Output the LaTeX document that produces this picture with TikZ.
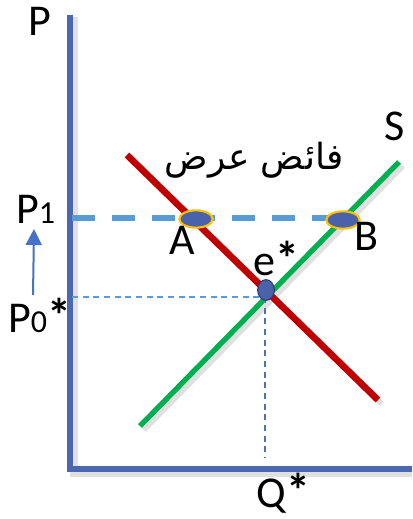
\documentclass[tikz,border=0pt]{standalone}
\usepackage{fontspec}
\setmainfont{Carlito}
\newfontfamily\arabicfont[Script=Arabic]{DejaVu Sans}
\TeXXeTstate=1
\usetikzlibrary{arrows.meta,shapes.geometric}
\definecolor{axisblue}{HTML}{4A67B0}
\definecolor{dred}{HTML}{C00000}
\definecolor{sgreen}{HTML}{00B050}
\definecolor{lblue}{HTML}{5B9BD5}
\definecolor{dotblue}{HTML}{4A62AA}
\definecolor{ring}{HTML}{FFC000}
\definecolor{arrblue}{HTML}{4472C4}
\newcommand{\bigast}{{\fontsize{36}{36}\selectfont\textbf{*}}}
\newcommand{\subnum}[1]{{\fontsize{24}{24}\selectfont #1}}
\tikzset{
  lbl/.style={font=\fontsize{33}{36}\selectfont, inner sep=0pt},
  shadowline/.style={line width=6pt, black, opacity=0.12},
  pointmark/.style={ellipse, fill=dotblue, draw=ring, line width=1.6pt, minimum width=25pt, minimum height=13pt, inner sep=0pt},
}
\begin{document}
\begin{tikzpicture}[x=0.75pt,y=-0.75pt]
\useasboundingbox (0,0) rectangle (412,519);
% shadows
\draw[shadowline] (74,17) -- (74,473) -- (412,473);
\draw[shadowline,line width=4pt] (131,159) -- (382,404);
\draw[shadowline,line width=4pt] (144,430) -- (403,166);
% axes
\draw[axisblue, line width=4pt] (70,15) coordinate (ytop) -- (70,469) coordinate (orig) -- (412,469) coordinate (xend);
% curves
\coordinate (d1) at (127,155);
\coordinate (d2) at (378,400);
\coordinate (s1) at (140,426);
\coordinate (s2) at (399,162);
\draw[dred, line width=5pt] (d1) -- (d2);
\draw[sgreen, line width=4pt] (s1) -- (s2);
% guide lines
\coordinate (p1l) at (72,218);
\coordinate (p1r) at (356,218);
\draw[lblue, line width=3.8pt, dash pattern=on 17pt off 13pt] (p1l) -- (p1r);
\coordinate (p0l) at (72,297);
\coordinate (ecorner) at (265,297);
\coordinate (qbot) at (265,458);
\draw[lblue, line width=1pt, dash pattern=on 4.5pt off 3.5pt] (p0l) -- (ecorner);
\draw[axisblue!80!lblue, line width=1pt, dash pattern=on 4.5pt off 3.5pt] (ecorner) -- (qbot);
% points
\node[pointmark] (A) at (196,219) {};
\node[pointmark] (B) at (343,220) {};
\node[ellipse, fill=dotblue, draw=axisblue!60!black, line width=0.8pt, minimum width=12.5pt, minimum height=15.5pt, inner sep=0pt] (e) at (266,290) {};
% labels
\node[lbl, anchor=base west] (P) at (28,35) {P};
\node[lbl, anchor=base west] (S) at (384,140) {S};
\node[lbl, anchor=base west] (P1) at (16,223) {P\subnum{1}};
\node[lbl, anchor=base west] (P0) at (8,332) {P\subnum{0}\bigast};
\node[lbl, anchor=base west] (Alab) at (169,254) {A};
\node[lbl, anchor=base west] (Blab) at (354,250) {B};
\node[lbl, anchor=base west] (elab) at (253,275) {e\bigast};
\node[lbl, anchor=base west] (Qlab) at (256,507) {Q\bigast};
\node[inner sep=0pt] (surplus) at (254,160) {\arabicfont\fontsize{27}{30}\selectfont\beginR فائض عرض\endR};
% arrow
\coordinate (arrS) at (33,295);
\coordinate (arrE) at (34,229);
\draw[arrblue, line width=1.5pt, -{Triangle[length=12pt,width=12pt]}] (arrS) -- (arrE);
\end{tikzpicture}
\end{document}
